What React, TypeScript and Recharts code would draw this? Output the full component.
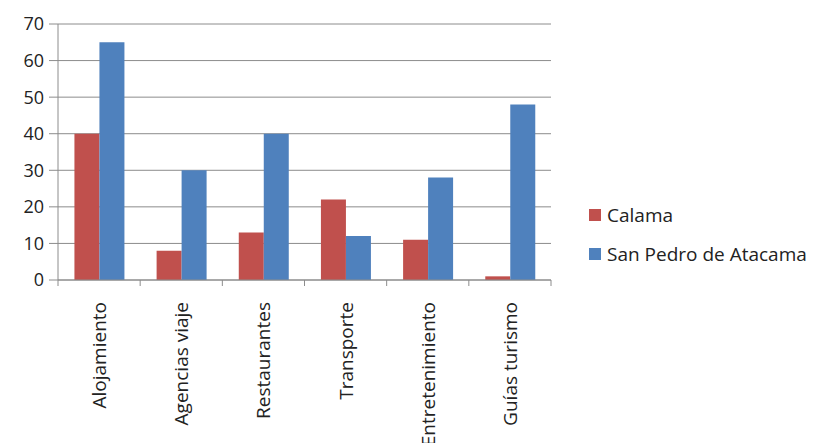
import React from "react";
import {
  BarChart,
  Bar,
  XAxis,
  YAxis,
  CartesianGrid,
} from "recharts";

const categories = [
  "Alojamiento",
  "Agencias viaje",
  "Restaurantes",
  "Transporte",
  "Entretenimiento",
  "Guías turismo",
];
const calama = [40, 8, 13, 22, 11, 1];
const sanPedro = [65, 30, 40, 12, 28, 48];
const yTicks = [0, 10, 20, 30, 40, 50, 60, 70];

const series = [
  { key: "calama", name: "Calama", color: "#C0504D" },
  { key: "sanPedro", name: "San Pedro de Atacama", color: "#4F81BD" },
];

const data = categories.map((name, i) => ({
  name,
  calama: calama[i],
  sanPedro: sanPedro[i],
}));

const FONT = "'Open Sans', sans-serif";
const GRID = "#8c8c8c";
const PLOT_LEFT = 58;
const PLOT_RIGHT = 551;
const BAND = (PLOT_RIGHT - PLOT_LEFT) / categories.length;

function CategoryTick(props: any) {
  const { x, y, payload, index } = props;
  const left = x - BAND / 2;
  return (
    <g>
      <line x1={left} y1={y - 8} x2={left} y2={y - 2} stroke={GRID} />
      {index === categories.length - 1 && (
        <line x1={left + BAND} y1={y - 8} x2={left + BAND} y2={y - 2} stroke={GRID} />
      )}
      <text
        x={0}
        y={0}
        transform={`translate(${x + 7}, ${y + 14}) rotate(-90)`}
        textAnchor="end"
        fontFamily={FONT}
        fontSize={19}
        fill="#222"
      >
        {payload.value}
      </text>
    </g>
  );
}

export default function App() {
  return (
    <div
      style={{
        position: "absolute",
        left: 0,
        top: 0,
        width: 829,
        height: 443,
        background: "#fff",
      }}
    >
      <BarChart
        width={829}
        height={443}
        data={data}
        margin={{ top: 24, right: 278, bottom: 0, left: 8 }}
        barCategoryGap="20%"
        barGap={0}
      >
        <CartesianGrid vertical={false} stroke={GRID} />
        <XAxis
          dataKey="name"
          height={163}
          interval={0}
          stroke={GRID}
          tickLine={false}
          tick={<CategoryTick />}
        />
        <YAxis
          width={50}
          domain={[0, 70]}
          ticks={yTicks}
          interval={0}
          stroke={GRID}
          tickSize={9}
          tickMargin={5}
          tick={{ fill: "#222", fontFamily: FONT, fontSize: 18 }}
        />
        {series.map((s) => (
          <Bar
            key={s.key}
            dataKey={s.key}
            name={s.name}
            fill={s.color}
            isAnimationActive={false}
          />
        ))}
      </BarChart>
      <div
        style={{
          position: "absolute",
          left: 589,
          top: 195,
          fontFamily: FONT,
          fontSize: 19,
          color: "#222",
        }}
      >
        {series.map((s) => (
          <div
            key={s.key}
            style={{ display: "flex", alignItems: "center", height: 39 }}
          >
            <span
              style={{
                width: 12,
                height: 12,
                background: s.color,
                marginRight: 6,
                display: "inline-block",
              }}
            />
            <span>{s.name}</span>
          </div>
        ))}
      </div>
    </div>
  );
}
